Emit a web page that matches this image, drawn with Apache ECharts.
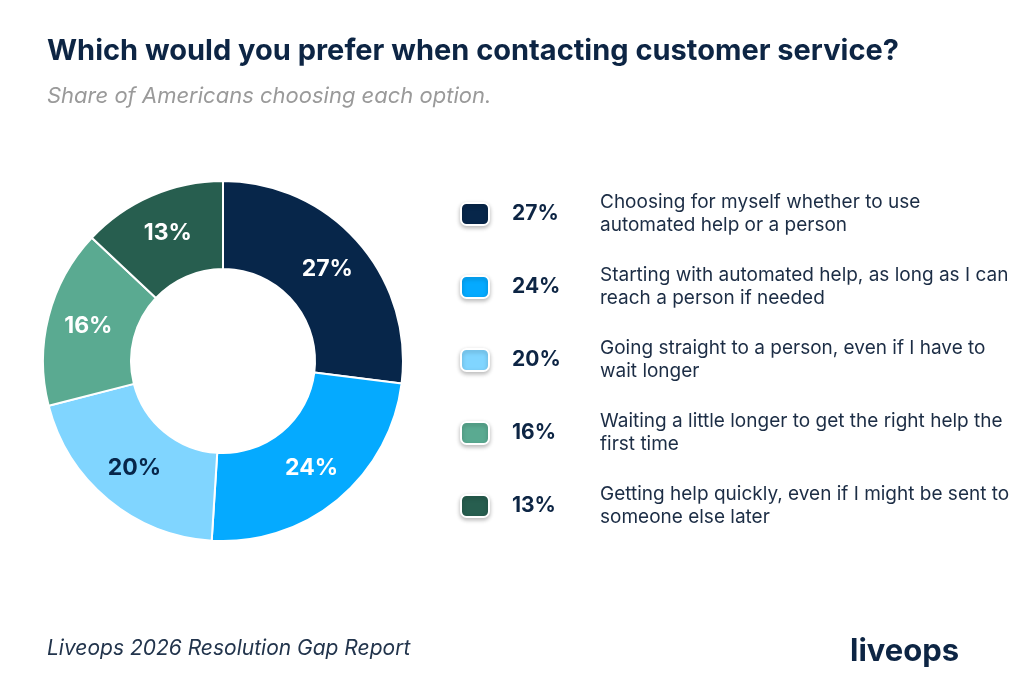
<!DOCTYPE html>
<html>
<head>
<meta charset="utf-8">
<script src="https://cdn.jsdelivr.net/npm/echarts@6/dist/echarts.min.js"></script>
<style>
  html, body { margin: 0; padding: 0; background: #fff; }
  #chart { width: 1024px; height: 691px; }
</style>
</head>
<body>
<div id="chart"></div>
<script>
// options shown in the donut and legend (clockwise from 12 o'clock)
var options = [
  "Choosing for myself whether to use\nautomated help or a person",
  "Starting with automated help, as long as I can\nreach a person if needed",
  "Going straight to a person, even if I have to\nwait longer",
  "Waiting a little longer to get the right help the\nfirst time",
  "Getting help quickly, even if I might be sent to\nsomeone else later"
];
var shares = [27, 24, 20, 16, 13]; // percent
var colors = ["#07264a", "#05aaff", "#80d5ff", "#5aaa91", "#275e4f"];
var labelColors = ["#fff", "#fff", "#07264a", "#fff", "#fff"];

var FONT = "Inter, 'Noto Sans', sans-serif";
var NAVY = "#0d2544";

var pieData = options.map(function (name, i) {
  return {
    name: name,
    value: shares[i],
    itemStyle: { color: colors[i] },
    label: { color: labelColors[i] }
  };
});

function shareOf(name) {
  return shares[options.indexOf(name)];
}

var chart = echarts.init(document.getElementById("chart"));
chart.setOption({
  backgroundColor: "#fff",
  animation: false,
  title: [
    {
      text: "Which would you prefer when contacting customer service?",
      subtext: "Share of Americans choosing each option.",
      left: 42,
      top: 32,
      itemGap: 19,
      textStyle: { fontFamily: FONT, fontSize: 29, fontWeight: 700, color: NAVY },
      subtextStyle: { fontFamily: FONT, fontSize: 22, fontStyle: "italic", color: "#9a9a9a" }
    },
    {
      text: "Liveops 2026 Resolution Gap Report",
      left: 42,
      top: 633,
      textStyle: { fontFamily: FONT, fontSize: 21, fontStyle: "italic", fontWeight: 400, color: "#22344c" }
    },
    {
      text: "liveops",
      left: 845,
      top: 631,
      textStyle: { fontFamily: FONT, fontSize: 31, fontWeight: 700, color: NAVY }
    }
  ],
  legend: [
    {
      // swatch + percentage
      orient: "vertical",
      left: 460,
      top: 191,
      padding: 0,
      itemGap: 27,
      itemWidth: 28,
      itemHeight: 22,
      icon: "roundRect",
      selectedMode: false,
      itemStyle: { shadowBlur: 4, shadowColor: "rgba(0,0,0,0.25)", shadowOffsetY: 2 },
      data: options,
      formatter: function (name) { return "{p|" + shareOf(name) + "%}"; },
      textStyle: {
        rich: {
          p: { fontFamily: FONT, fontSize: 21, fontWeight: 700, color: NAVY, height: 46, lineHeight: 46, padding: [0, 0, 0, 18] }
        }
      }
    },
    {
      // option text
      orient: "vertical",
      left: 593,
      top: 191,
      padding: 0,
      itemGap: 27,
      itemWidth: 1,
      itemHeight: 1,
      selectedMode: false,
      itemStyle: { opacity: 0 },
      data: options,
      textStyle: { fontFamily: FONT, fontSize: 19, lineHeight: 23, color: "#1c2d45" }
    }
  ],
  series: [
    {
      type: "pie",
      center: [223, 361],
      radius: [92, 180],
      startAngle: 90,
      clockwise: true,
      avoidLabelOverlap: false,
      silent: true,
      itemStyle: { borderColor: "#fff", borderWidth: 2 },
      label: {
        show: true,
        position: "inside",
        formatter: "{c}%",
        fontFamily: FONT,
        fontSize: 23,
        fontWeight: 700
      },
      labelLine: { show: false },
      data: pieData
    }
  ]
});
window.addEventListener("resize", function () { chart.resize(); });
</script>
</body>
</html>
